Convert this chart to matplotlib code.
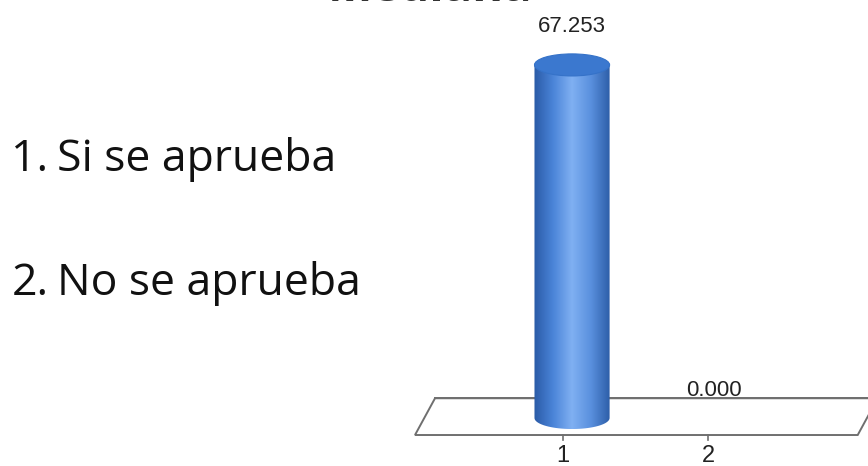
import numpy as np
import matplotlib.pyplot as plt
from matplotlib.patches import Ellipse, Polygon
from matplotlib.colors import LinearSegmentedColormap

categories = [1, 2]
valores = [67.253, 0.000]
etiquetas = ["1", "2"]
leyenda = ["Si se aprueba", "No se aprueba"]
titulo = "Mediana"

fig = plt.figure(figsize=(8.68, 4.66), dpi=100)
ax = fig.add_axes([0, 0, 1, 1])
ax.set_xlim(-2.945, 3.041)
ax.set_ylim(-9.143, 79.62)
ax.axis("off")

# piso en perspectiva
depth_x, depth_y = 0.138, 7.0
fx0, fx1, fy = -0.083, 2.97, -3.24
floor = Polygon([[fx0, fy], [fx1, fy], [fx1 + depth_x, fy + depth_y], [fx0 + depth_x, fy + depth_y]],
                closed=True, facecolor="white", edgecolor="#6f6f6f", lw=1.4, zorder=1)
ax.add_patch(floor)
ax.plot([fx0 + depth_x, 3.2], [fy + depth_y, fy + depth_y], color="#6f6f6f", lw=1.4, zorder=1)

# cilindros
half_w = 0.259
ell_h = 4.2
cmap = LinearSegmentedColormap.from_list(
    "cil", ["#2a5aa6", "#4a84d8", "#80b0f2", "#5a90de", "#2d5ea8"])
grad = np.linspace(0, 1, 256).reshape(1, -1)
for x, v in zip(categories, valores):
    if v <= 0:
        continue
    verts = [(x - half_w, v), (x - half_w, 0)]
    t = np.linspace(np.pi, 2 * np.pi, 40)
    verts += [(x + half_w * np.cos(a), ell_h / 2 * np.sin(a)) for a in t]
    verts += [(x + half_w, v), (x - half_w, v)]
    clip = Polygon(verts, closed=True, facecolor="none", edgecolor="none")
    ax.add_patch(clip)
    im = ax.imshow(grad, cmap=cmap, aspect="auto",
                   extent=[x - half_w, x + half_w, -ell_h / 2, v], zorder=2)
    im.set_clip_path(clip)
    top = Ellipse((x, v), 2 * half_w, ell_h, facecolor="#3b78cf", edgecolor="#3572c8", lw=0.8, zorder=3)
    ax.add_patch(top)

# valores
ax.text(categories[0], valores[0] + 7.4, f"{valores[0]:.3f}", ha="center", va="center",
        fontsize=16, family="Liberation Sans", color="#222222")
ax.text(categories[1] - 0.02, valores[1] + 5.2, f"{valores[1]:.3f}", ha="center", va="center",
        fontsize=16, family="Liberation Sans", color="#222222", zorder=0)

# marcas y etiquetas del eje
for x, lab in zip(categories, etiquetas):
    xt = x - 0.062
    ax.plot([xt, xt], [fy, fy - 1.0], color="#6f6f6f", lw=1.2)
    ax.text(xt, fy - 4.0, lab, ha="center", va="center", fontsize=17,
            family="Liberation Sans", color="#222222")

# leyenda a la izquierda
for i, txt in enumerate(leyenda):
    yp = 0.657 - i * 0.265
    fig.text(0.013, yp, f"{i + 1}.", fontsize=32, family="Open Sans", va="center", color="#111111")
    fig.text(0.066, yp, txt, fontsize=32, family="Open Sans", va="center", color="#111111")

# título (cortado arriba, como en el original)
fig.text(0.495, 1 - 1 / 466, titulo, fontsize=34, family="Open Sans", weight="bold",
         ha="center", va="baseline", color="#333333")

fig.savefig("out.png", dpi=100)
